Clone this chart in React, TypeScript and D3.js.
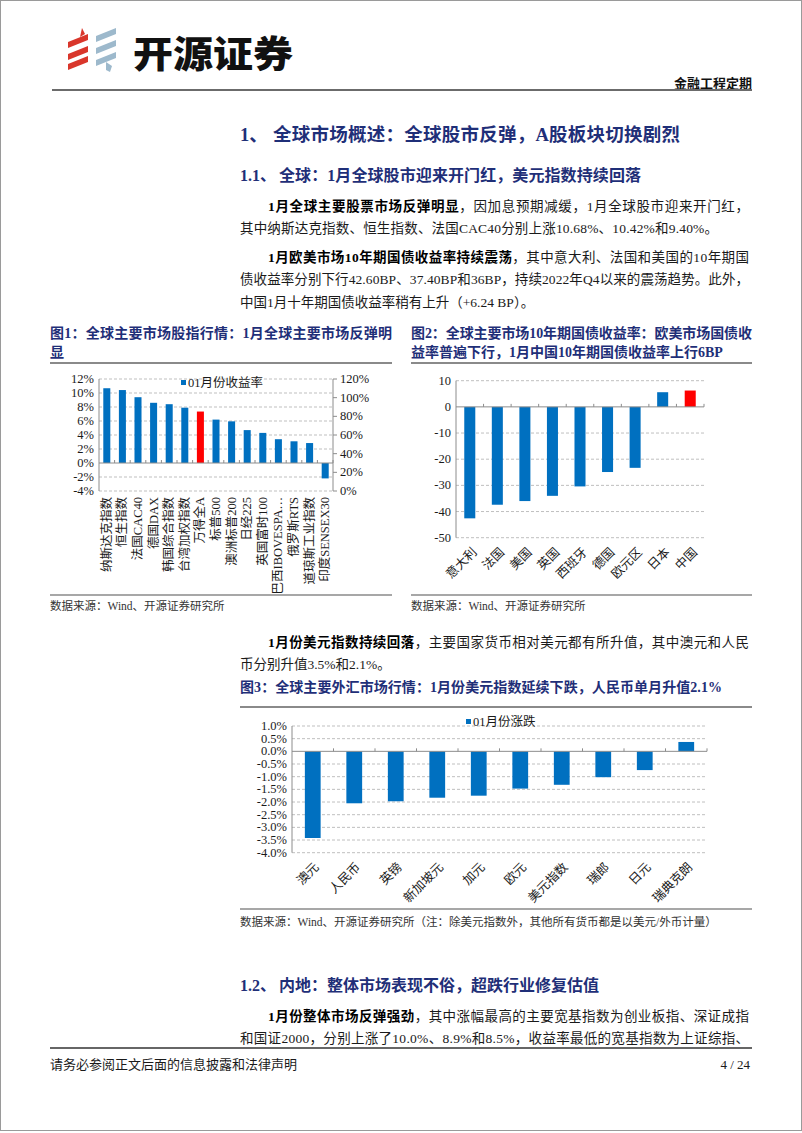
import React from "react";
import * as d3 from "d3";

// ---------- DATA ----------
const eqCats = ["纳斯达克指数", "恒生指数", "法国CAC40", "德国DAX", "韩国综合指数", "台湾加权指数", "万得全A", "标普500", "澳洲标普200", "日经225", "英国富时100", "巴西IBOVESPA…", "俄罗斯RTS", "道琼斯工业指数", "印度SENSEX30"];
const eqValues = [10.68, 10.42, 9.4, 8.6, 8.4, 7.9, 7.35, 6.2, 5.95, 4.7, 4.3, 3.4, 3.1, 2.85, -2.2];
const eqHighlight = "万得全A";
const eqLeftTicks = [-4, -2, 0, 2, 4, 6, 8, 10, 12];
const eqRightTicks = [0, 20, 40, 60, 80, 100, 120];

const bondCats = ["意大利", "法国", "美国", "英国", "西班牙", "德国", "欧元区", "日本", "中国"];
const bondValues = [-42.6, -37.4, -36.0, -34.0, -30.4, -24.9, -23.3, 5.6, 6.24];
const bondHighlight = "中国";
const bondTicks = [10, 0, -10, -20, -30, -40, -50];

const fxCats = ["澳元", "人民币", "英镑", "新加坡元", "加元", "欧元", "美元指数", "瑞郎", "日元", "瑞典克朗"];
const fxValues = [-3.42, -2.05, -1.97, -1.83, -1.75, -1.47, -1.32, -1.02, -0.74, 0.37];
const fxTicks = [1, 0.5, 0, -0.5, -1, -1.5, -2, -2.5, -3, -3.5, -4];

// ---------- STYLE ----------
const SERIF = "'Liberation Serif', 'Times New Roman', 'Noto Sans CJK SC', serif";
const BLUE = "#0070C0";
const RED = "#FF0000";
const NAVY = "#1f2f78";
const GRID = "#bfbfbf";
const AXIS = "#8c8c8c";

type ChartProps = {
  cats: string[];
  vals: number[];
  highlight?: string;
  left: number;
  right: number;
  yTop: number;
  yBottom: number;
  domain: [number, number];
  ticks: number[];
  fmt: (v: number) => string;
  barFrac: number;
  labelMode: "v" | "d";
  labelY: number;
  labelDx: number;
  fontSize: number;
};

function BarChart(p: ChartProps) {
  const x = d3.scaleBand<string>().domain(p.cats).range([p.left, p.right]).paddingInner(0).paddingOuter(0);
  const y = d3.scaleLinear().domain(p.domain).range([p.yBottom, p.yTop]);
  const bw = x.bandwidth();
  const barW = bw * p.barFrac;
  const y0 = y(0);
  return (
    <g>
      {p.ticks.filter((t) => t !== 0).map((t) => (
        <line key={"g" + t} x1={p.left} x2={p.right} y1={y(t)} y2={y(t)} stroke={GRID} strokeWidth={1} strokeDasharray="3,2" />
      ))}
      <line x1={p.left} x2={p.left} y1={y(p.domain[1])} y2={y(p.domain[0])} stroke={AXIS} strokeWidth={1} />
      {p.cats.map((c, i) => {
        const v = p.vals[i];
        const bx = (x(c) as number) + (bw - barW) / 2;
        return (
          <rect key={"b" + c} x={bx} width={barW} y={Math.min(y(v), y0)} height={Math.abs(y(v) - y0)} fill={c === p.highlight ? RED : BLUE} />
        );
      })}
      <line x1={p.left} x2={p.right} y1={y0} y2={y0} stroke={AXIS} strokeWidth={1} />
      {d3.range(1, p.cats.length + 1).map((i) => (
        <line key={"t" + i} x1={p.left + i * bw} x2={p.left + i * bw} y1={y0} y2={y0 - 3} stroke={AXIS} strokeWidth={1} />
      ))}
      {p.ticks.map((t) => (
        <text key={"l" + t} x={p.left - 5} y={y(t)} textAnchor="end" dominantBaseline="central" fontFamily={SERIF} fontSize={p.fontSize} fill="#1a1a1a">
          {p.fmt(t)}
        </text>
      ))}
      {p.cats.map((c) => {
        const cx = (x(c) as number) + bw / 2 + p.labelDx;
        return (
          <text
            key={"c" + c}
            x={cx}
            y={p.labelY}
            transform={`rotate(${p.labelMode === "v" ? -90 : -45},${cx},${p.labelY})`}
            textAnchor="end"
            dominantBaseline="central"
            fontFamily={SERIF}
            fontSize={p.fontSize}
            fill="#1a1a1a"
          >
            {c}
          </text>
        );
      })}
    </g>
  );
}

type Seg = { t: string; b?: boolean };
function Line({ x, y, segs, tl, size = 13.5, color = "#1a1a1a", weight }: { x: number; y: number; segs: Seg[]; tl?: number; size?: number; color?: string; weight?: number }) {
  return (
    <text x={x} y={y} dominantBaseline="central" fontFamily={SERIF} fontSize={size} fill={color} fontWeight={weight} textLength={tl} lengthAdjust={tl ? "spacing" : undefined}>
      {segs.map((s, i) => (
        <tspan key={i} fontWeight={s.b ? "bold" : undefined} fill={s.b ? "#000" : undefined}>
          {s.t}
        </tspan>
      ))}
    </text>
  );
}

function Logo() {
  const red = "#d9362b";
  const blue = "#9db9cc";
  const stripe = (x: number, y: number, c: string, k: number) => (
    <path key={`${x}-${y}`} d={`M${x},${y + 6} L${x + 20},${y - 2} L${x + 20},${y + 4} L${x},${y + 12} Z`} fill={c} transform={`translate(0,${k})`} />
  );
  return (
    <g>
      <path d="M82,28 L85,34 L80,37 Z" fill={red} />
      {stripe(68, 36, red, 0)}
      {stripe(68, 48, red, 0)}
      {stripe(68, 60, red, -2)}
      {stripe(96, 30, blue, 0)}
      {stripe(96, 42, blue, 0)}
      {stripe(96, 54, blue, 0)}
      <path d="M106,62 L112,66 L110,72 L106,70 Z" fill={blue} />
    </g>
  );
}

export default function App() {
  const pct0 = (v: number) => `${v}%`;
  const pct1 = (v: number) => `${v.toFixed(1)}%`;
  const rY = d3.scaleLinear().domain([0, 120]).range([491, 379]);
  return (
    <div style={{ position: "absolute", left: 0, top: 0 }}>
      <svg width={802} height={1133} viewBox="0 0 802 1133" style={{ display: "block", background: "#fff" }}>
        <rect x={0.5} y={0.5} width={801} height={1130} fill="#fff" stroke="#9a9a9a" strokeWidth={1} />

        {/* Header */}
        <Logo />
        <text x={133} y={52} dominantBaseline="central" fontFamily="'Noto Sans CJK SC', sans-serif" fontWeight={900} fontSize={37} fill="#111" textLength={160} lengthAdjust="spacingAndGlyphs">
          开源证券
        </text>
        <text x={752} y={83} textAnchor="end" dominantBaseline="central" fontFamily={SERIF} fontWeight="bold" fontSize={13} fill="#111">
          金融工程定期
        </text>
        <line x1={52} x2={752} y1={90} y2={90} stroke="#6b6b6b" strokeWidth={2} />

        {/* Section 1 */}
        <text x={240} y={135} dominantBaseline="central" fontFamily={SERIF} fontWeight="bold" fontSize={18.5} fill={NAVY}>1、</text>
        <text x={273} y={135} dominantBaseline="central" fontFamily={SERIF} fontWeight="bold" fontSize={18.5} fill={NAVY} textLength={407} lengthAdjust="spacing">全球市场概述：全球股市反弹，A股板块切换剧烈</text>
        <text x={240} y={175} dominantBaseline="central" fontFamily={SERIF} fontWeight="bold" fontSize={16} fill={NAVY}>1.1、</text>
        <text x={279} y={175} dominantBaseline="central" fontFamily={SERIF} fontWeight="bold" fontSize={16} fill={NAVY} textLength={362} lengthAdjust="spacing">全球：1月全球股市迎来开门红，美元指数持续回落</text>

        <Line x={268} y={206} tl={481} segs={[{ t: "1月全球主要股票市场反弹明显", b: true }, { t: "，因加息预期减缓，1月全球股市迎来开门红，" }]} />
        <Line x={240} y={228} tl={478} segs={[{ t: "其中纳斯达克指数、恒生指数、法国CAC40分别上涨10.68%、10.42%和9.40%。" }]} />
        <Line x={268} y={257} tl={481} segs={[{ t: "1月欧美市场10年期国债收益率持续震荡", b: true }, { t: "，其中意大利、法国和美国的10年期国" }]} />
        <Line x={240} y={279} tl={509} segs={[{ t: "债收益率分别下行42.60BP、37.40BP和36BP，持续2022年Q4以来的震荡趋势。此外，" }]} />
        <Line x={240} y={302} segs={[{ t: "中国1月十年期国债收益率稍有上升（+6.24 BP）。" }]} />

        {/* Figure titles */}
        <Line x={50} y={333} tl={342} size={14} color={NAVY} weight={700} segs={[{ t: "图1：全球主要市场股指行情：1月全球主要市场反弹明" }]} />
        <Line x={50} y={352} size={14} color={NAVY} weight={700} segs={[{ t: "显" }]} />
        <Line x={411} y={333} tl={341} size={14} color={NAVY} weight={700} segs={[{ t: "图2：全球主要市场10年期国债收益率：欧美市场国债收" }]} />
        <Line x={411} y={352} size={14} color={NAVY} weight={700} segs={[{ t: "益率普遍下行，1月中国10年期国债收益率上行6BP" }]} />
        <line x1={50} x2={392} y1={363} y2={363} stroke="#8a8a8a" strokeWidth={2} />
        <line x1={411} x2={752} y1={363} y2={363} stroke="#8a8a8a" strokeWidth={2} />

        {/* Chart 1 */}
        <BarChart cats={eqCats} vals={eqValues} highlight={eqHighlight} left={99} right={333} yTop={379} yBottom={491} domain={[-4, 12]} ticks={eqLeftTicks} fmt={pct0} barFrac={0.45} labelMode="v" labelY={497} labelDx={0} fontSize={12.5} />
        <line x1={333} x2={333} y1={379} y2={491} stroke={AXIS} strokeWidth={1} />
        {eqRightTicks.map((t) => (
          <g key={"r" + t}>
            <line x1={333} x2={337} y1={rY(t)} y2={rY(t)} stroke={AXIS} />
            <text x={340} y={rY(t)} dominantBaseline="central" fontFamily={SERIF} fontSize={12.5} fill="#1a1a1a">{`${t}%`}</text>
          </g>
        ))}
        <rect x={181} y={380} width={5} height={5} fill={BLUE} />
        <text x={188} y={383} dominantBaseline="central" fontFamily={SERIF} fontSize={12.5} fill="#1a1a1a">01月份收益率</text>
        <line x1={50} x2={392} y1={595} y2={595} stroke="#8a8a8a" strokeWidth={1.5} />
        <text x={50} y={606} dominantBaseline="central" fontFamily={SERIF} fontSize={11.5} fill="#333">数据来源：Wind、开源证券研究所</text>

        {/* Chart 2 */}
        <BarChart cats={bondCats} vals={bondValues} highlight={bondHighlight} left={456} right={704} yTop={380.7} yBottom={537.7} domain={[-50, 10]} ticks={bondTicks} fmt={(v) => `${v}`} barFrac={0.4} labelMode="d" labelY={550} labelDx={5} fontSize={12.5} />
        <line x1={411} x2={752} y1={595} y2={595} stroke="#8a8a8a" strokeWidth={1.5} />
        <text x={411} y={606} dominantBaseline="central" fontFamily={SERIF} fontSize={11.5} fill="#333">数据来源：Wind、开源证券研究所</text>

        {/* Paragraph 3 */}
        <Line x={268} y={642} tl={481} segs={[{ t: "1月份美元指数持续回落", b: true }, { t: "，主要国家货币相对美元都有所升值，其中澳元和人民" }]} />
        <Line x={240} y={664} segs={[{ t: "币分别升值3.5%和2.1%。" }]} />

        <Line x={240} y={687} tl={482} size={14} color={NAVY} weight={700} segs={[{ t: "图3：全球主要外汇市场行情：1月份美元指数延续下跌，人民币单月升值2.1%" }]} />
        <line x1={240} x2={752} y1={707} y2={707} stroke="#8a8a8a" strokeWidth={2} />

        {/* Chart 3 */}
        <BarChart cats={fxCats} vals={fxValues} left={292} right={707} yTop={726} yBottom={852.7} domain={[-4, 1]} ticks={fxTicks} fmt={pct1} barFrac={0.38} labelMode="d" labelY={865} labelDx={4} fontSize={12.5} />
        <rect x={466} y={719} width={5} height={5} fill={BLUE} />
        <text x={473} y={722} dominantBaseline="central" fontFamily={SERIF} fontSize={12.5} fill="#1a1a1a">01月份涨跌</text>
        <line x1={240} x2={752} y1={909} y2={909} stroke="#8a8a8a" strokeWidth={1.5} />
        <text x={240} y={922} dominantBaseline="central" fontFamily={SERIF} fontSize={11.5} fill="#333">数据来源：Wind、开源证券研究所（注：除美元指数外，其他所有货币都是以美元/外币计量）</text>

        {/* Section 1.2 */}
        <text x={240} y={985} dominantBaseline="central" fontFamily={SERIF} fontWeight="bold" fontSize={16} fill={NAVY}>1.2、</text>
        <text x={279} y={985} dominantBaseline="central" fontFamily={SERIF} fontWeight="bold" fontSize={16} fill={NAVY}>内地：整体市场表现不俗，超跌行业修复估值</text>
        <Line x={268} y={1016} tl={481} segs={[{ t: "1月份整体市场反弹强劲", b: true }, { t: "，其中涨幅最高的主要宽基指数为创业板指、深证成指" }]} />
        <Line x={240} y={1038} tl={509} segs={[{ t: "和国证2000，分别上涨了10.0%、8.9%和8.5%，收益率最低的宽基指数为上证综指、" }]} />

        {/* Footer */}
        <line x1={50} x2={752} y1={1048} y2={1048} stroke="#333" strokeWidth={1.5} />
        <text x={50} y={1064} dominantBaseline="central" fontFamily={SERIF} fontSize={13} fill="#1a1a1a">请务必参阅正文后面的信息披露和法律声明</text>
        <text x={750} y={1064} textAnchor="end" dominantBaseline="central" fontFamily={SERIF} fontSize={13} fill="#1a1a1a">4 / 24</text>
      </svg>
    </div>
  );
}
